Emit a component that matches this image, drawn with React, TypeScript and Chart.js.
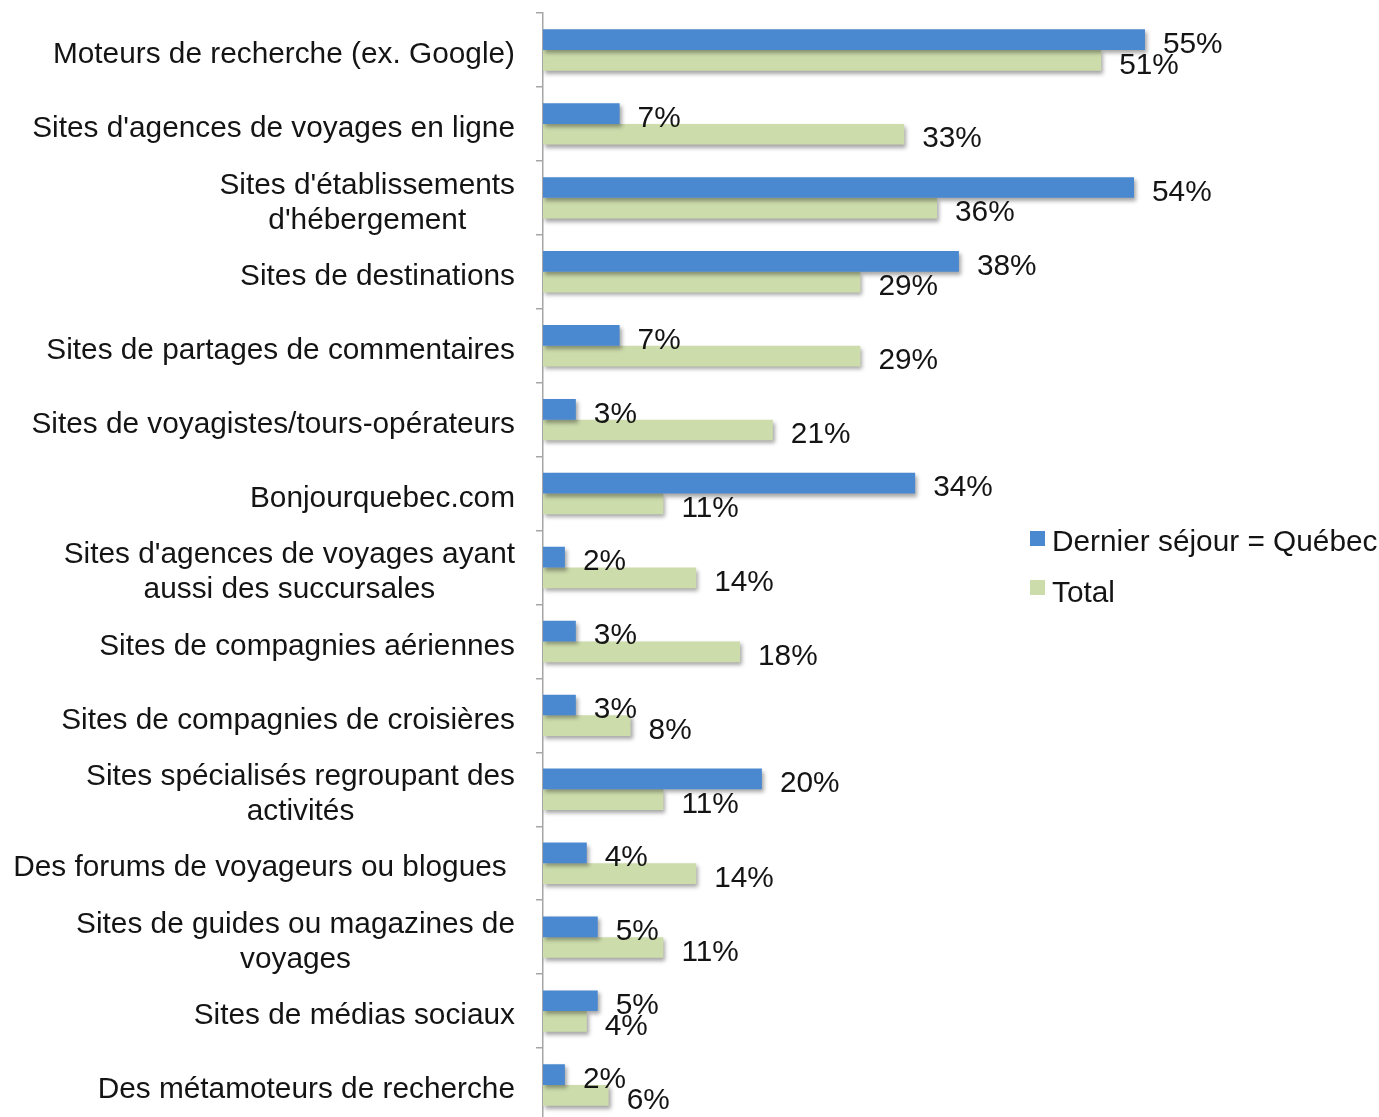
import React, { useEffect, useRef } from "react";
import { Chart, registerables } from "chart.js";

Chart.register(...registerables);

const categories: string[][] = [
  ["Moteurs de recherche (ex. Google)"],
  ["Sites d'agences de voyages en ligne"],
  ["Sites d'établissements", "d'hébergement"],
  ["Sites de destinations"],
  ["Sites de partages de commentaires"],
  ["Sites de voyagistes/tours-opérateurs"],
  ["Bonjourquebec.com"],
  ["Sites d'agences de voyages ayant", "aussi des succursales"],
  ["Sites de compagnies aériennes"],
  ["Sites de compagnies de croisières"],
  ["Sites spécialisés regroupant des", "activités"],
  ["Des forums de voyageurs ou blogues "],
  ["Sites de guides ou magazines de", "voyages"],
  ["Sites de médias sociaux"],
  ["Des métamoteurs de recherche"],
];

const seriesNames = ["Dernier séjour = Québec", "Total"];
const quebecValues = [55, 7, 54, 38, 7, 3, 34, 2, 3, 3, 20, 4, 5, 5, 2];
const totalValues = [51, 33, 36, 29, 29, 21, 11, 14, 18, 8, 11, 14, 11, 4, 6];

const BLUE = "#4a88d0";
const GREEN = "#cddcab";
const TEXT = "#141414";
const AXIS = "#a6a6a6";
const FONT = "29.8px 'Liberation Sans', Arial, Helvetica, sans-serif";

export default function App() {
  const ref = useRef<HTMLCanvasElement | null>(null);

  useEffect(() => {
    const canvas = ref.current;
    if (!canvas) return;

    const shadowPlugin = {
      id: "barShadow",
      beforeDatasetsDraw(chart: any) {
        const ctx = chart.ctx;
        ctx.save();
        ctx.shadowColor = "rgba(0,0,0,0.35)";
        ctx.shadowBlur = 4;
        ctx.shadowOffsetX = 2;
        ctx.shadowOffsetY = 3;
      },
      afterDatasetsDraw(chart: any) {
        chart.ctx.restore();
      },
    };

    const overlayPlugin = {
      id: "overlay",
      afterDraw(chart: any) {
        const ctx = chart.ctx;
        ctx.save();
        ctx.font = FONT;
        ctx.fillStyle = TEXT;
        ctx.textBaseline = "middle";
        // value labels
        chart.data.datasets.forEach((ds: any, di: number) => {
          const meta = chart.getDatasetMeta(di);
          meta.data.forEach((el: any, i: number) => {
            ctx.textAlign = "left";
            ctx.fillText(ds.data[i] + "%", el.x + 18, el.y + 5);
          });
        });
        // category labels
        const yScale = chart.scales.y;
        const rightEdge = 515;
        categories.forEach((lines, i) => {
          const cy = yScale.getPixelForValue(i) + 5;
          const widths = lines.map((l) => ctx.measureText(l).width);
          const bw = Math.max(...widths);
          const cx = rightEdge - bw / 2;
          ctx.textAlign = "center";
          lines.forEach((l, k) => {
            const y = cy + (k - (lines.length - 1) / 2) * 35;
            ctx.fillText(l, cx, y);
          });
        });
        // legend
        const lx = 1030;
        const items = [
          { name: seriesNames[0], color: BLUE, y: 539, ty: 543 },
          { name: seriesNames[1], color: GREEN, y: 588, ty: 594 },
        ];
        items.forEach((it) => {
          ctx.fillStyle = it.color;
          ctx.fillRect(lx, it.y - 8, 15, 15);
          ctx.fillStyle = TEXT;
          ctx.textAlign = "left";
          ctx.fillText(it.name, lx + 22, it.ty);
        });
        ctx.restore();
      },
    };

    const chart = new Chart(canvas, {
      type: "bar",
      data: {
        labels: categories.map((c) => c.join(" ")),
        datasets: [
          {
            label: seriesNames[0],
            data: quebecValues,
            backgroundColor: BLUE,
            borderWidth: 0,
            categoryPercentage: 0.56,
            barPercentage: 1,
          },
          {
            label: seriesNames[1],
            data: totalValues,
            backgroundColor: GREEN,
            borderWidth: 0,
            categoryPercentage: 0.56,
            barPercentage: 1,
          },
        ],
      },
      options: {
        indexAxis: "y",
        responsive: false,
        animation: false,
        layout: { padding: { top: 13, right: 179.3, bottom: 8, left: 0 } },
        plugins: {
          legend: { display: false },
          tooltip: { enabled: false },
        },
        scales: {
          x: { display: false, min: 0, max: 60 },
          y: {
            grid: {
              display: true,
              drawOnChartArea: false,
              drawTicks: true,
              tickLength: 7,
              color: AXIS,
              lineWidth: 1.5,
              offset: true,
            },
            border: { display: true, color: AXIS, width: 1.5 },
            ticks: { display: false },
            afterFit: (s: any) => {
              s.width = 543;
            },
          },
        },
      },
      plugins: [shadowPlugin, overlayPlugin],
    } as any);

    return () => chart.destroy();
  }, []);

  return (
    <div
      style={{
        position: "absolute",
        left: 0,
        top: 0,
        width: 1379,
        height: 1117,
        overflow: "hidden",
        background: "#fff",
      }}
    >
      <canvas ref={ref} width={1379} height={1130} style={{ display: "block" }} />
    </div>
  );
}
